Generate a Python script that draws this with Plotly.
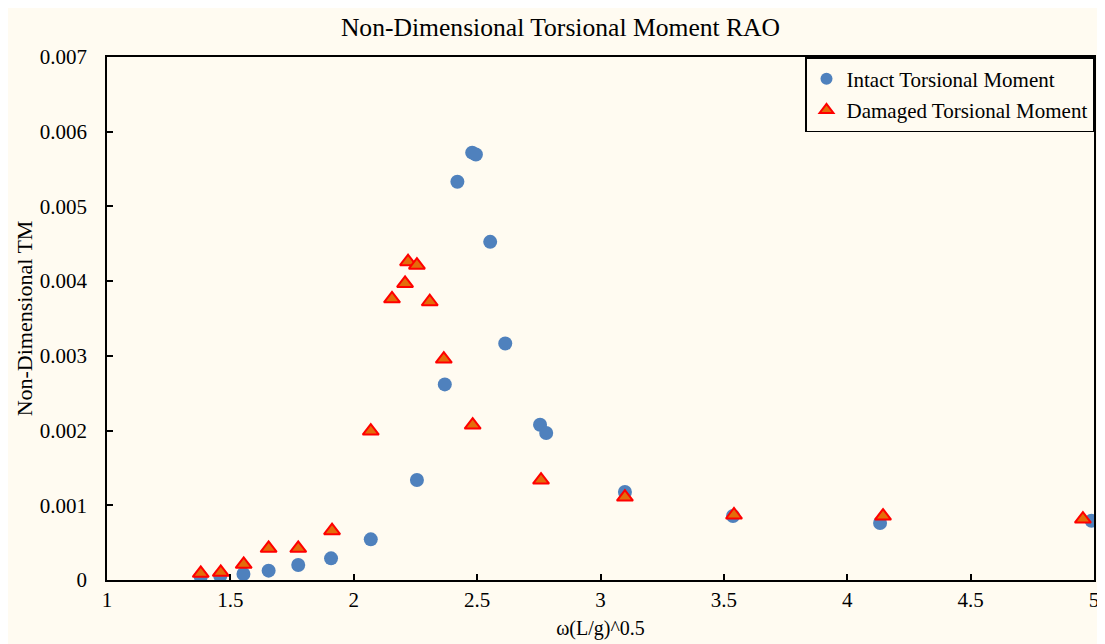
import plotly.graph_objects as go

intact_x = [1.38, 1.459, 1.553, 1.655, 1.775, 1.908, 2.069, 2.256, 2.369, 2.42, 2.48, 2.495, 2.553, 2.614, 2.755, 2.78, 3.099, 3.537, 4.133, 4.99]
intact_y = [0.000044, 0.000054, 0.00008, 0.000125, 0.0002, 0.00029, 0.000544, 0.001338, 0.002618, 0.00533, 0.00572, 0.005695, 0.004526, 0.003166, 0.002078, 0.001967, 0.001177, 0.000856, 0.000763, 0.000793]

damaged_x = [1.38, 1.461, 1.554, 1.655, 1.775, 1.912, 2.069, 2.155, 2.208, 2.22, 2.256, 2.308, 2.365, 2.482, 2.759, 3.099, 3.541, 4.145, 4.955]
damaged_y = [0.00009, 0.000103, 0.00021, 0.000424, 0.000424, 0.00066, 0.001993, 0.003763, 0.00397, 0.00426, 0.004214, 0.003724, 0.002957, 0.002074, 0.001338, 0.00111, 0.00087, 0.000856, 0.000816]

x_ticks = [1, 1.5, 2, 2.5, 3, 3.5, 4, 4.5, 5]
x_labels = ["1", "1.5", "2", "2.5", "3", "3.5", "4", "4.5", "5"]
y_ticks = [0, 0.001, 0.002, 0.003, 0.004, 0.005, 0.006, 0.007]
y_labels = ["0", "0.001", "0.002", "0.003", "0.004", "0.005", "0.006", "0.007"]

bg = "#FFFBF1"
font = "Liberation Serif"

fig = go.Figure()
fig.add_trace(go.Scatter(
    x=intact_x, y=intact_y, mode="markers", name="Intact Torsional Moment",
    legendgroup="a",
    marker=dict(symbol="circle", size=14, color="#4F81BD", line=dict(width=0)),
    cliponaxis=True,
))
fig.add_trace(go.Scatter(
    x=damaged_x, y=damaged_y, mode="markers", name="Damaged Torsional Moment",
    legendgroup="b",
    marker=dict(symbol="triangle-up", size=14, color="#E46C0A", line=dict(width=2, color="#FF0000")),
    cliponaxis=True,
))

fig.update_layout(
    width=1105, height=644,
    paper_bgcolor=bg, plot_bgcolor=bg,
    margin=dict(l=99, r=19, t=49, b=72),
    font=dict(family=font, size=21, color="#000000"),
    title=dict(text="Non-Dimensional Torsional Moment RAO", x=0.5, xanchor="center",
               y=1 - 19 / 644, yanchor="middle", font=dict(family=font, size=25.6, color="#000000")),
    showlegend=True,
    legend=dict(x=1, y=1, xanchor="right", yanchor="top", bgcolor=bg,
                bordercolor="#000000", borderwidth=1.5,
                font=dict(family=font, size=21, color="#000000"),
                itemsizing="constant", itemwidth=30, tracegroupgap=1),
)
fig.update_xaxes(
    range=[1, 5], tickvals=x_ticks, ticktext=x_labels,
    showline=True, linecolor="#000000", linewidth=1.5, mirror=True,
    ticks="inside", ticklen=6, tickcolor="#000000", tickwidth=1.5,
    showgrid=False, zeroline=False,
    tickfont=dict(family=font, size=21),
    title=dict(text="ω(L/g)^0.5", font=dict(family=font, size=20), standoff=10),
)
fig.update_yaxes(
    range=[0, 0.007], tickvals=y_ticks, ticktext=y_labels,
    showline=True, linecolor="#000000", linewidth=1.5, mirror=True,
    ticks="inside", ticklen=6, tickcolor="#000000", tickwidth=1.5,
    ticklabelstandoff=14,
    showgrid=False, zeroline=False,
    tickfont=dict(family=font, size=21),
    title=dict(text="Non-Dimensional TM", font=dict(family=font, size=22), standoff=1),
)

fig.write_html("out.html")
